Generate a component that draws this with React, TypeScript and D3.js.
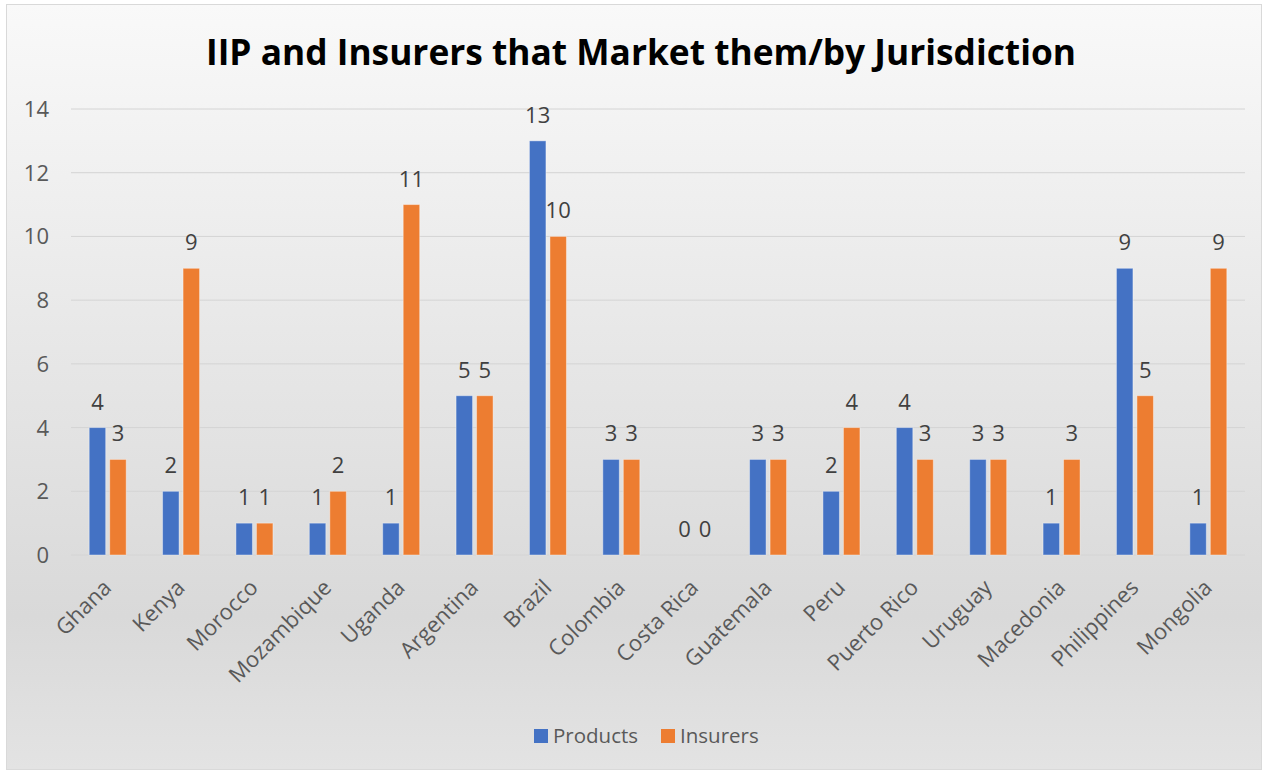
import React from "react";
import * as d3 from "d3";

const categories = ["Ghana","Kenya","Morocco","Mozambique","Uganda","Argentina","Brazil","Colombia","Costa Rica","Guatemala","Peru","Puerto Rico","Uruguay","Macedonia","Philippines","Mongolia"];
const products = [4,2,1,1,1,5,13,3,0,3,2,4,3,1,9,1];
const insurers = [3,9,1,2,11,5,10,3,0,3,4,3,3,3,5,9];
const yTicks = [0,2,4,6,8,10,12,14];
const seriesNames = ["Products","Insurers"];
const colors = ["#4472C4","#ED7D31"];

const W = 1264, H = 772;
const FONT = "'Open Sans', 'Liberation Sans', sans-serif";

export default function App() {
  const x = d3.scaleBand<string>().domain(categories).range([71, 1245]);
  const y = d3.scaleLinear().domain([0, 14]).range([555, 109]);
  const bw = 16.5, gap = 4;
  const series = [products, insurers];
  return (
    <svg width={W} height={H} style={{ position: "absolute", left: 0, top: 0 }} fontFamily={FONT}>
      <defs>
        <linearGradient id="bg" x1="0" y1="0" x2="0" y2="1">
          <stop offset="0" stopColor="#f9f9f9" />
          <stop offset="0.8" stopColor="#d9d9d9" />
          <stop offset="1" stopColor="#e3e3e3" />
        </linearGradient>
      </defs>
      <rect x={0} y={0} width={W} height={H} fill="#ffffff" />
      <rect x={6.5} y={4.5} width={1255} height={765} fill="url(#bg)" stroke="#d9d9d9" strokeWidth={1} />
      <text x={641} y={65} textAnchor="middle" fontSize={35.3} fontWeight="bold" fill="#000">
        IIP and Insurers that Market them/by Jurisdiction
      </text>
      {yTicks.map(t => (
        <g key={t}>
          <line x1={71} x2={1245} y1={y(t)} y2={y(t)} stroke="#d4d4d4" strokeWidth={1} />
          <text x={49} y={y(t) + 8} textAnchor="end" fontSize={22} fill="#595959">{t}</text>
        </g>
      ))}
      {categories.map((c, i) => {
        const cx = (x(c) as number) + x.bandwidth() / 2;
        return (
          <g key={c}>
            {series.map((s, j) => {
              const bx = j === 0 ? cx - gap / 2 - bw : cx + gap / 2;
              const v = s[i];
              return (
                <g key={j}>
                  {v > 0 && (
                    <rect x={bx} y={y(v)} width={bw} height={y(0) - y(v)} fill={colors[j]} stroke="#ffffff" strokeOpacity={0.4} strokeWidth={1} />
                  )}
                  <text x={bx + bw / 2} y={y(v) - 18} textAnchor="middle" fontSize={22} fill="#404040">{v}</text>
                </g>
              );
            })}
            <text transform={`translate(${cx + 5},${589}) rotate(-45)`} textAnchor="end" fontSize={22} fill="#595959">{c}</text>
          </g>
        );
      })}
      {seriesNames.map((n, j) => {
        const lx = j === 0 ? 534 : 661;
        return (
          <g key={n}>
            <rect x={lx} y={729} width={14} height={14} fill={colors[j]} />
            <text x={lx + 19} y={743} fontSize={20.5} fill="#595959">{n}</text>
          </g>
        );
      })}
    </svg>
  );
}
